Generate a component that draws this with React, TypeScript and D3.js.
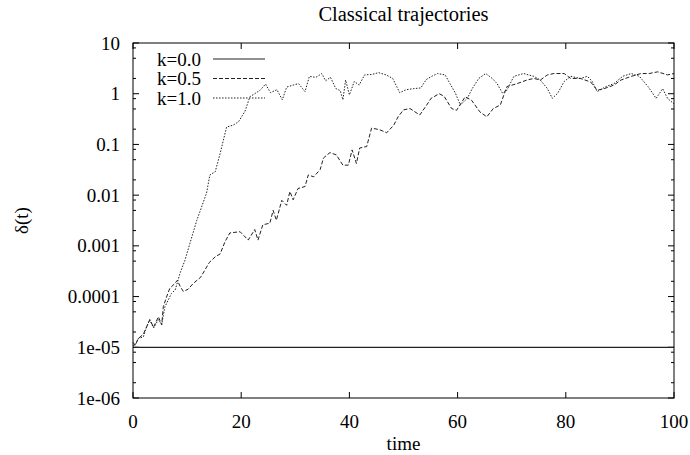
import React from "react";
import * as d3 from "d3";

const W = 690;
const H = 455;

const xTicks = [0, 20, 40, 60, 80, 100];
const yTicks = [1e-6, 1e-5, 1e-4, 1e-3, 1e-2, 1e-1, 1, 10];
const yTickLabels = ["1e-06", "1e-05", "0.0001", "0.001", "0.01", "0.1", "1", "10"];
const yMinorMult = [2, 5, 8];

const tK00 = [0, 100];
const vK00 = [1e-5, 1e-5];

const tK05 = [0, 0.4, 1.0, 1.9, 2.5, 3.1, 3.8, 4.7, 5.3, 5.6, 6.2, 6.8, 7.7, 8.2, 8.7, 9.3, 10.2, 11.1, 12.5, 14.1, 15.3, 16.1, 17.0, 17.9, 19.8, 21.3, 22.5, 23.1, 24.0, 25.3, 25.9, 26.5, 27.5, 28.4, 29.0, 29.6, 30.5, 31.8, 32.4, 33.4, 34.6, 35.2, 36.4, 37.6, 38.2, 38.8, 39.8, 40.5, 41.3, 41.9, 43.2, 44.1, 45.6, 46.9, 48.2, 49.0, 50.0, 51.2, 53.0, 54.3, 55.1, 56.6, 57.5, 58.9, 59.8, 61.4, 62.6, 64.1, 65.4, 66.6, 67.9, 69.1, 71.0, 72.8, 74.1, 75.3, 76.6, 77.8, 79.7, 80.9, 82.7, 84.6, 85.8, 87.1, 88.9, 90.2, 92.1, 93.9, 95.4, 97.0, 98.8, 100];
const vK05 = [1.25e-5, 1.1e-5, 1.5e-5, 1.8e-5, 2.5e-5, 3.5e-5, 2.5e-5, 4e-5, 2.75e-5, 6.3e-5, 9.8e-5, 1.45e-4, 1.8e-4, 2.1e-4, 1.6e-4, 1.26e-4, 1.4e-4, 1.8e-4, 2.4e-4, 4.7e-4, 6.2e-4, 6.9e-4, 1.2e-3, 1.8e-3, 1.9e-3, 1.3e-3, 2.1e-3, 1.3e-3, 2.6e-3, 2.8e-3, 5e-3, 3.2e-3, 7.9e-3, 6.3e-3, 0.0118, 8.1e-3, 0.0135, 0.0148, 0.025, 0.023, 0.032, 0.054, 0.069, 0.062, 0.049, 0.039, 0.039, 0.078, 0.042, 0.085, 0.091, 0.21, 0.195, 0.17, 0.24, 0.35, 0.48, 0.51, 0.38, 0.6, 0.81, 1.0, 0.89, 0.51, 0.47, 0.87, 0.74, 0.44, 0.35, 0.51, 0.6, 1.38, 1.58, 1.86, 2.0, 1.86, 2.35, 2.5, 2.5, 2.0, 2.0, 1.7, 1.17, 1.26, 1.48, 1.86, 2.2, 2.5, 2.5, 2.7, 2.35, 2.5];

const tK10 = [0, 0.4, 1.0, 1.9, 2.5, 3.1, 3.8, 4.7, 5.3, 5.9, 6.5, 7.1, 7.8, 8.7, 9.6, 10.5, 11.8, 13.6, 14.2, 15.2, 16.1, 17.3, 18.5, 19.5, 20.7, 21.6, 22.5, 23.5, 24.5, 25.4, 26.6, 27.6, 28.4, 29.6, 30.6, 31.8, 32.6, 33.8, 34.9, 35.6, 36.5, 37.5, 38.3, 38.8, 39.3, 40.0, 40.9, 41.8, 42.8, 44.2, 45.4, 46.8, 48.0, 49.3, 50.5, 51.9, 53.2, 54.2, 55.2, 56.3, 57.7, 58.6, 59.6, 60.5, 61.8, 62.7, 63.9, 65.2, 66.4, 67.3, 68.3, 69.1, 70.4, 72.2, 74.1, 75.3, 76.6, 77.5, 78.5, 79.7, 80.9, 82.7, 84.0, 84.9, 85.8, 87.4, 88.9, 90.5, 92.1, 93.6, 95.2, 96.7, 97.9, 98.8, 100];
const vK10 = [1.1e-5, 1.1e-5, 1.5e-5, 1.6e-5, 2.5e-5, 3.5e-5, 2.4e-5, 3.5e-5, 2.8e-5, 6.3e-5, 8.5e-5, 1.15e-4, 1.35e-4, 2.9e-4, 5.2e-4, 1.1e-3, 3.2e-3, 0.011, 0.025, 0.029, 0.066, 0.22, 0.24, 0.28, 0.45, 0.87, 1.0, 1.17, 1.55, 1.05, 1.2, 0.76, 1.35, 1.48, 1.58, 1.1, 2.2, 2.1, 2.5, 1.8, 2.1, 1.26, 1.15, 0.76, 1.86, 0.95, 1.74, 1.48, 2.35, 2.4, 2.6, 2.35, 2.0, 1.05, 1.2, 1.26, 1.3, 1.9, 2.2, 2.5, 2.35, 1.58, 1.02, 0.6, 0.81, 1.26, 2.0, 2.5, 2.0, 1.58, 1.02, 1.17, 2.2, 2.5, 2.2, 1.86, 1.26, 0.81, 1.02, 1.74, 2.2, 2.0, 2.2, 1.74, 1.1, 1.38, 1.58, 2.2, 2.5, 2.2, 1.38, 0.81, 1.26, 0.81, 0.63];

const seriesNames = ["k=0.0", "k=0.5", "k=1.0"];

export default function App() {
  const left = 133, right = 674, top = 43, bottom = 398;
  const x = d3.scaleLinear().domain([0, 100]).range([left, right]);
  const y = d3.scaleLog().domain([1e-6, 10]).range([bottom, top]);
  const line = d3
    .line<[number, number]>()
    .x((d) => x(d[0]))
    .y((d) => y(d[1]));

  const series = [
    { name: seriesNames[0], t: tK00, v: vK00, dash: "none", sw: 1.2, color: "#222" },
    { name: seriesNames[1], t: tK05, v: vK05, dash: "4,2", sw: 1, color: "#222" },
    { name: seriesNames[2], t: tK10, v: vK10, dash: "1.5,1.5", sw: 1, color: "#222" },
  ];

  const minorTicks: number[] = [];
  yTicks.slice(0, -1).forEach((d) => yMinorMult.forEach((m) => minorTicks.push(d * m)));

  const font = "'Liberation Serif', 'Times New Roman', serif";
  const fs = 19;
  const legendY = [59, 78.5, 98];

  return (
    <svg width={W} height={H} style={{ position: "absolute", left: 0, top: 0, background: "#fff", fontFamily: font, fontSize: fs }}>
      <rect x={0} y={0} width={W} height={H} fill="#fff" />
      <text x={(left + right) / 2} y={20.5} textAnchor="middle" style={{ fontSize: 20.5 }}>Classical trajectories</text>
      <text transform={`translate(28,${(top + bottom) / 2}) rotate(-90)`} textAnchor="middle">δ(t)</text>
      <text x={(left + right) / 2} y={450} textAnchor="middle">time</text>

      {/* y ticks */}
      {yTicks.map((d, i) => (
        <g key={"yt" + i}>
          <line x1={left} x2={left + 6} y1={y(d)} y2={y(d)} stroke="#000" />
          <line x1={right} x2={right - 6} y1={y(d)} y2={y(d)} stroke="#000" />
          <text x={120} y={y(d) + 6.5} textAnchor="end">{yTickLabels[i]}</text>
        </g>
      ))}
      {minorTicks.map((d, i) => (
        <g key={"ym" + i}>
          <line x1={left} x2={left + 3} y1={y(d)} y2={y(d)} stroke="#000" />
          <line x1={right} x2={right - 3} y1={y(d)} y2={y(d)} stroke="#000" />
        </g>
      ))}
      {/* x ticks */}
      {xTicks.map((d, i) => (
        <g key={"xt" + i}>
          <line x1={x(d)} x2={x(d)} y1={bottom} y2={bottom - 6} stroke="#000" />
          <line x1={x(d)} x2={x(d)} y1={top} y2={top + 6} stroke="#000" />
          <text x={x(d)} y={428} textAnchor="middle">{d}</text>
        </g>
      ))}

      {/* series */}
      {series.map((s) => (
        <path
          key={s.name}
          d={line(s.t.map((t, i) => [t, s.v[i]] as [number, number])) || ""}
          fill="none"
          stroke={s.color}
          strokeWidth={s.sw}
          strokeDasharray={s.dash}
        />
      ))}

      {/* legend */}
      {series.map((s, i) => (
        <g key={"lg" + i}>
          <text x={201} y={legendY[i] + 6.5} textAnchor="end">{s.name}</text>
          <line x1={213} x2={265} y1={legendY[i]} y2={legendY[i]} stroke={s.color} strokeWidth={s.sw} strokeDasharray={s.dash} />
        </g>
      ))}

      <rect x={left} y={top} width={right - left} height={bottom - top} fill="none" stroke="#000" strokeWidth={1} />
    </svg>
  );
}
